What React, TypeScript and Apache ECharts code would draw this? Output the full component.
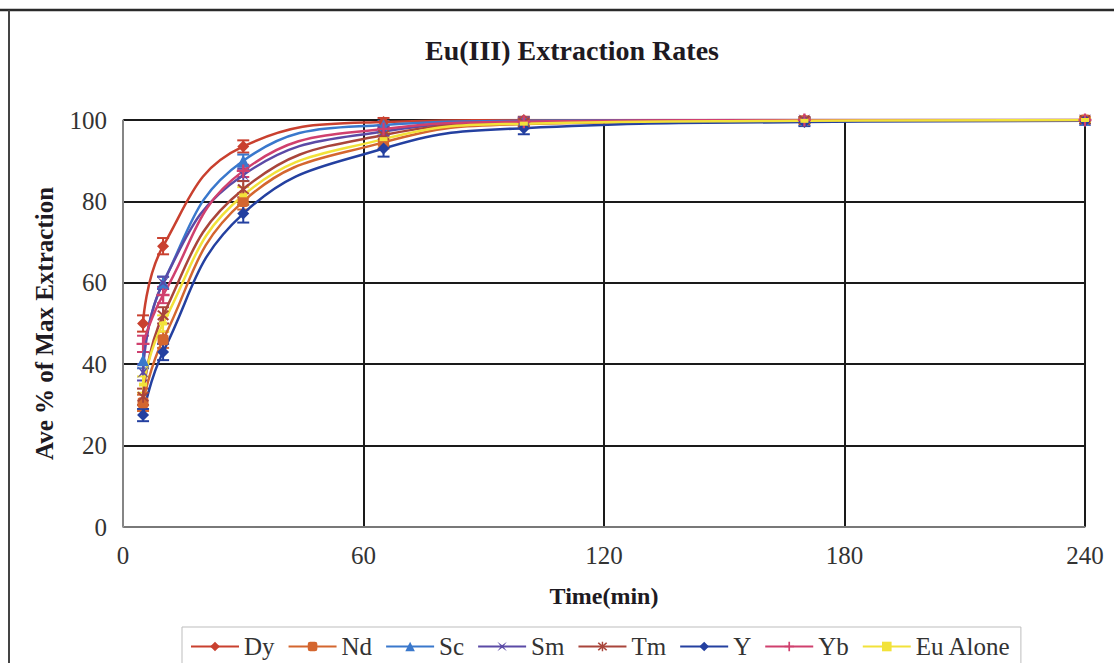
import React, { useEffect, useRef } from "react";
import * as echarts from "echarts";

// Sampling times (min)
const times = [5, 10, 30, 65, 100, 170, 240];

// Average % of maximum extraction per co-ion
const dy = [50, 69, 93.5, 99.5, 100, 100, 100];
const nd = [30.5, 46, 80, 94.5, 99, 99.8, 100];
const sc = [41, 60, 90, 98.8, 99.8, 100, 100];
const sm = [38, 60, 86.5, 97.2, 99.5, 100, 100];
const tm = [32, 52, 83, 96.3, 99.3, 99.9, 100];
const yy = [27.5, 43, 77, 93, 98, 99.5, 99.8];
const yb = [45, 57, 87.5, 97.8, 99.6, 100, 100];
const euAlone = [35, 50, 81.5, 95.3, 99.1, 99.8, 100];

// Half-widths of the error bars
const errDy = [2, 2, 1.5, 1, 0.8, 0.6, 0.5];
const errNd = [2, 2, 2, 1.5, 1, 0.6, 0.5];
const errSc = [2, 1.5, 1.5, 1, 0.8, 0.6, 0.5];
const errSm = [2, 1.5, 1.5, 1, 0.8, 0.6, 0.5];
const errTm = [2, 2, 2, 1.5, 1, 0.6, 0.5];
const errY = [1.5, 2, 2.2, 2, 1.5, 1, 0.6];
const errYb = [2, 2, 1.5, 1, 0.8, 0.6, 0.5];
const errEu = [2, 2, 2, 1.5, 1, 0.6, 0.5];

const xTicks = { min: 0, max: 240, interval: 60 };
const yTicks = { min: 0, max: 100, interval: 20 };

const starX = "path://M0,0 L4,3 L8,0 L5,4 L8,8 L4,5 L0,8 L3,4 Z";
const asterisk =
  "path://M0,1 L1,0 L4,3 L7,0 L8,1 L5,4 L8,7 L7,8 L4,5 L1,8 L0,7 L3,4 Z M3.4,-0.5 L4.6,-0.5 L4.6,8.5 L3.4,8.5 Z";
const plus =
  "path://M3.3,0 L4.7,0 L4.7,3.3 L8,3.3 L8,4.7 L4.7,4.7 L4.7,8 L3.3,8 L3.3,4.7 L0,4.7 L0,3.3 L3.3,3.3 Z";

type Spec = {
  name: string;
  values: number[];
  err: number[];
  color: string;
  symbol: string;
  size: number | number[];
};

const specs: Spec[] = [
  { name: "Dy", values: dy, err: errDy, color: "#c9402f", symbol: "diamond", size: 12 },
  { name: "Nd", values: nd, err: errNd, color: "#d4662f", symbol: "roundRect", size: 11 },
  { name: "Sc", values: sc, err: errSc, color: "#3a78cc", symbol: "triangle", size: 12 },
  { name: "Sm", values: sm, err: errSm, color: "#5b4aa6", symbol: starX, size: 12 },
  { name: "Tm", values: tm, err: errTm, color: "#a9453b", symbol: asterisk, size: 12 },
  { name: "Y", values: yy, err: errY, color: "#2440a0", symbol: "diamond", size: 12 },
  { name: "Yb", values: yb, err: errYb, color: "#d0406e", symbol: plus, size: 13 },
  { name: "Eu Alone", values: euAlone, err: errEu, color: "#f2e23a", symbol: "rect", size: [8, 4] },
];

const serif = "'Liberation Serif', 'Times New Roman', serif";

export default function App() {
  const ref = useRef<HTMLDivElement>(null);

  useEffect(() => {
    if (!ref.current) return;
    const chart = echarts.init(ref.current, undefined, { renderer: "svg" });

    const lineSeries = specs.map((s) => ({
      name: s.name,
      type: "line",
      data: times.map((t, i) => [t, s.values[i]]),
      smooth: 0.45,
      symbol: s.symbol,
      symbolSize: s.size,
      showAllSymbol: true,
      lineStyle: { color: s.color, width: 2.5 },
      itemStyle: { color: s.color },
      z: 3,
    }));

    const errSeries = specs.map((s) => ({
      name: s.name + " error",
      type: "custom",
      data: times.map((t, i) => [t, s.values[i] - s.err[i], s.values[i] + s.err[i]]),
      encode: { x: 0, y: [1, 2] },
      clip: false,
      z: 2,
      renderItem: (_p: any, api: any) => {
        const x = api.value(0);
        const top = api.coord([x, api.value(2)]);
        const bot = api.coord([x, api.value(1)]);
        const w = 6;
        const st = { stroke: s.color, lineWidth: 2 };
        return {
          type: "group",
          children: [
            { type: "line", shape: { x1: top[0], y1: top[1], x2: bot[0], y2: bot[1] }, style: st },
            { type: "line", shape: { x1: top[0] - w, y1: top[1], x2: top[0] + w, y2: top[1] }, style: st },
            { type: "line", shape: { x1: bot[0] - w, y1: bot[1], x2: bot[0] + w, y2: bot[1] }, style: st },
          ],
        };
      },
    }));

    chart.setOption({
      animation: false,
      backgroundColor: "#ffffff",
      title: {
        text: "Eu(III) Extraction Rates",
        left: 567,
        textAlign: "center",
        top: 31,
        textStyle: { fontFamily: serif, fontWeight: "bold", fontSize: 28, color: "#1e1a22" },
      },
      graphic: [
        { type: "line", shape: { x1: 0, y1: 10, x2: 1114, y2: 10 }, style: { stroke: "#2a2a2a", lineWidth: 2.5 } },
        { type: "line", shape: { x1: 9, y1: 10, x2: 9, y2: 663 }, style: { stroke: "#444", lineWidth: 2 } },
      ],
      grid: { left: 123, right: 29, top: 120, bottom: 136 },
      legend: {
        data: specs.map((s) => s.name),
        left: 182,
        top: 627,
        itemWidth: 48,
        itemHeight: 12,
        itemGap: 13,
        padding: [7, 10, 10, 8],
        borderColor: "#bdbdbd",
        borderWidth: 1,
        textStyle: { fontFamily: serif, fontSize: 25, color: "#333" },
      },
      xAxis: {
        type: "value",
        ...xTicks,
        name: "Time(min)",
        nameLocation: "middle",
        nameGap: 57,
        nameTextStyle: { fontFamily: serif, fontWeight: "bold", fontSize: 24, color: "#1e1a22" },
        axisLine: { show: true, lineStyle: { color: "#999", width: 1.5 } },
        axisTick: { show: false },
        axisLabel: { fontFamily: serif, fontSize: 25, color: "#333", margin: 16 },
        splitLine: { show: true, lineStyle: { color: "#1a1a1a", width: 2 } },
      },
      yAxis: {
        type: "value",
        ...yTicks,
        name: "Ave % of Max Extraction",
        nameLocation: "middle",
        nameGap: 66,
        nameTextStyle: { fontFamily: serif, fontWeight: "bold", fontSize: 25, color: "#1e1a22" },
        axisLine: { show: true, lineStyle: { color: "#aaa", width: 1.5 } },
        axisTick: { show: false },
        axisLabel: { fontFamily: serif, fontSize: 25, color: "#333", margin: 16 },
        splitLine: { show: true, lineStyle: { color: "#1a1a1a", width: 2 } },
      },
      series: [...errSeries, ...lineSeries],
    });

    return () => chart.dispose();
  }, []);

  return (
    <div
      ref={ref}
      style={{ position: "fixed", left: 0, top: 0, width: 1114, height: 663, background: "#fff" }}
    />
  );
}
